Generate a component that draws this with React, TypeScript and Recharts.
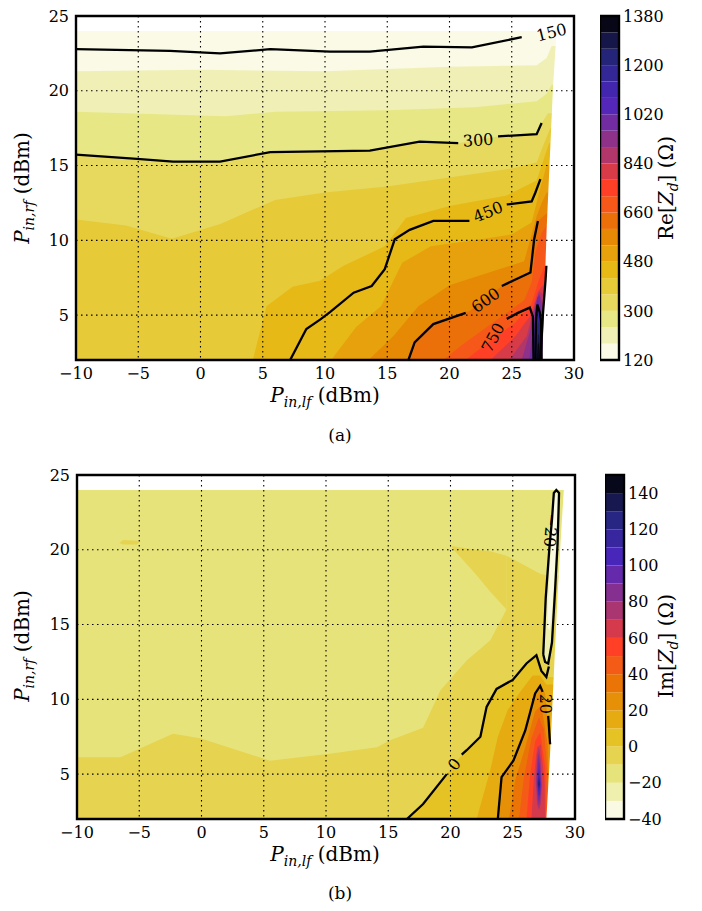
import React from "react";
import {
  ComposedChart,
  Area,
  Line,
  Scatter,
  XAxis,
  YAxis,
  CartesianGrid,
  ReferenceArea,
} from "recharts";

const serif = "'DejaVu Serif', 'Liberation Serif', 'Noto Serif', 'Times New Roman', serif";

const xTicks = [-10, -5, 0, 5, 10, 15, 20, 25, 30];
const yTicks = [5, 10, 15, 20, 25];

// colour levels of the two colour bars
const reLevels = [120, 180, 240, 300, 360, 420, 480, 540, 600, 660, 720, 780, 840, 900, 960, 1020, 1080, 1140, 1200, 1260, 1320, 1380];
const reTicks = [120, 300, 480, 660, 840, 1020, 1200, 1380];
const imLevels = [-40, -30, -20, -10, 0, 10, 20, 30, 40, 50, 60, 70, 80, 90, 100, 110, 120, 130, 140, 150];
const imTicks = [-40, -20, 0, 20, 40, 60, 80, 100, 120, 140];

// ---- (a) Re[Zd]: upper edge of each region "value > level" [x, y]
const reBase = [[-10, 24], [30, 24]];
const reEdge180 = [[-10, 21.3], [0, 21.4], [10, 21.3], [20, 21.6], [27, 21.7], [27.8, 22.2], [28.2, 23.0], [30, 23.0]];
const reEdge240 = [[-10, 18.6], [-2, 18.4], [2, 18.3], [6, 18.6], [15, 18.7], [22, 18.9], [27, 19.3], [27.8, 19.8], [28.2, 20.4], [30, 20.4]];
const reEdge300 = [[-10, 15.73], [-5.1, 15.45], [-2.2, 15.26], [1.6, 15.26], [5.6, 15.9], [13.6, 16.0], [17.6, 16.6], [20.7, 16.5], [23.9, 16.95], [27.0, 17.1], [27.4, 17.85], [27.9, 18.5], [30, 18.5]];
const reEdge360 = [[-10, 11.4], [-6, 11.0], [-2.3, 10.1], [1.6, 11.1], [6, 12.7], [10, 13.2], [15, 13.6], [20, 14.2], [25, 14.8], [27, 15.2], [27.6, 16.5], [28.1, 17.5], [30, 17.5]];
const reEdge420 = [[4.2, 2], [5.3, 5.6], [7.4, 6.9], [9.6, 7.3], [11.5, 8.3], [14.8, 9.6], [16.5, 11.5], [20, 12.3], [24.6, 13.0], [27, 14.0], [27.6, 15.5], [28.0, 16.5], [30, 16.5]];
const reEdge480 = [[10.5, 2], [12.5, 4.2], [14.5, 5.6], [16.2, 8.5], [18.5, 9.6], [22, 10], [25, 10.4], [26.6, 11.2], [27.2, 13.2], [27.8, 15], [30, 15]];
const reEdge540 = [[13.5, 2], [15.5, 3.6], [17.5, 5.6], [20, 7], [23, 7.8], [26, 8.6], [27, 11.6], [27.4, 12.5], [27.8, 13.2], [30, 13.2]];
const reEdge600 = [[16.7, 2], [17.2, 3.18], [18.7, 4.4], [21.65, 5.3], [24.2, 6.95], [26.5, 7.85], [26.8, 10.07], [27.1, 11.3], [27.8, 11.8], [30, 11.8]];
const reEdge660 = [[19.5, 2], [21, 3], [23.5, 4.5], [26, 6], [26.6, 7.2], [26.9, 9.2], [27.4, 10.5], [27.8, 11], [30, 11]];
const reEdge720 = [[21.3, 2], [23, 3.1], [25.3, 4.5], [26.6, 5.8], [27.2, 7.4], [27.8, 8.6], [30, 8.6]];
const reEdge780 = [[23.3, 2], [25.3, 3.6], [26.5, 5.0], [27.1, 6.6], [27.8, 7.3], [30, 7.3]];
const reEdge840 = [[24.8, 2], [26.2, 3.6], [26.7, 5.2], [27.2, 6.6], [27.5, 6.4], [27.7, 2]];
const reEdge900 = [[25.8, 2], [26.5, 4], [26.9, 5.8], [27.2, 6.5], [27.45, 5.8], [27.6, 2]];
const reEdge960 = [[26.4, 2], [26.8, 4.5], [27.05, 6.2], [27.25, 6.3], [27.45, 4.5], [27.55, 2]];
const reEdge1020 = [[26.7, 2], [26.9, 5], [27.1, 6.0], [27.3, 5.2], [27.45, 2]];
const reEdge1080 = [[26.8, 2], [26.95, 5], [27.1, 5.8], [27.25, 5], [27.4, 2]];
const reEdge1140 = [[26.85, 2], [27.0, 4.5], [27.12, 5.3], [27.25, 4.5], [27.35, 2]];
const reEdge1200 = [[26.9, 2], [27.05, 4.2], [27.15, 4.6], [27.25, 4], [27.3, 2]];
const reEdge1260 = [[26.95, 2], [27.1, 3.6], [27.15, 3.8], [27.22, 3.5], [27.28, 2]];
const reEdge1320 = [[27.0, 2], [27.12, 3.2], [27.2, 3], [27.25, 2]];
const reDataEdge = [[27.45, 2], [27.8, 10.7], [28.3, 20], [28.6, 24], [30, 24]];

// (a) contour lines
const reLine150 = [[-10, 22.78], [-2.45, 22.67], [1.57, 22.5], [5.6, 22.78], [10.4, 22.62], [13.6, 22.62], [17.9, 22.95], [21.8, 22.9], [25.8, 23.58]];
const reLine300a = [[-10, 15.73], [-5.1, 15.45], [-2.2, 15.26], [1.57, 15.26], [5.6, 15.9], [13.6, 16.0], [17.6, 16.6], [20.7, 16.5]];
const reLine300b = [[23.9, 16.95], [27.0, 17.1], [27.4, 17.85]];
const reLine450a = [[7.2, 2], [8.5, 4.07], [9.6, 4.7], [10.4, 5.2], [12.3, 6.5], [13.75, 6.95], [14.8, 8.07], [15.6, 10.07], [16.8, 10.7], [18.7, 11.3], [21.6, 11.3]];
const reLine450b = [[24.6, 12.4], [26.6, 12.6], [26.9, 13.2], [27.3, 14.1]];
const reLine600a = [[16.7, 2], [17.2, 3.18], [18.7, 4.4], [21.3, 5.15]];
const reLine600b = [[24.2, 6.95], [26.5, 7.85], [26.8, 10.07], [27.1, 11.3]];
const reLine750 = [[24.6, 4.75], [25.5, 5.15], [26.45, 5.5], [26.7, 4.9], [26.75, 2]];
const reLineSpike = [[26.9, 2], [26.95, 4.7], [27.05, 5.7], [27.25, 5.2], [27.35, 4.6], [27.4, 2]];
const reLineEdge = [[27.3, 2], [27.5, 5], [27.72, 7.4], [27.78, 8.3]];
const reLabels = [
  { x: 28.2, y: 23.9, text: "150", angle: -14 },
  { x: 22.3, y: 16.7, text: "300", angle: -4 },
  { x: 23.1, y: 11.9, text: "450", angle: -22 },
  { x: 22.9, y: 6.0, text: "600", angle: -36 },
  { x: 23.5, y: 3.5, text: "750", angle: -62 },
];

// ---- (b) Im[Zd]
const imBase = [[-10, 24], [30, 24]];
const imEdgeM10 = [[-10, 6.13], [-6.5, 6.13], [-2.3, 7.7], [-0.1, 7.4], [5.5, 5.9], [10.3, 6.36], [14.1, 6.8], [15.1, 7.25], [17.8, 8.1], [19.2, 10.6], [21.3, 12.6], [23.2, 13.95], [24.5, 16.0], [24.5, 19.6], [27.2, 18.4], [27.7, 18.3], [30, 18.3]];
const imLobeM10 = [[20.1, 20.15, 20.25], [22, 18.4, 20.0], [23.2, 17.2, 19.9], [24.5, 16.0, 19.6]];
const imDashM10 = [[-6.6, 20.45, 20.45], [-6.3, 20.35, 20.65], [-5.2, 20.35, 20.6], [-5.0, 20.5, 20.5]];
const imEdge0 = [[16.5, 2], [17.8, 3.0], [19.7, 5.0], [20.5, 5.9], [21.3, 6.6], [22.4, 7.5], [22.9, 9.5], [23.7, 10.7], [25.0, 11.3], [26.1, 12.4], [26.9, 12.95], [27.3, 11.9], [27.7, 11.5], [30, 11.5]];
const imEdge10 = [[22.1, 2], [22.6, 3.5], [23.2, 5.3], [23.8, 7.5], [24.6, 9.3], [25.6, 10.5], [26.6, 11.6], [27.2, 11.6], [27.7, 11], [30, 11]];
const imEdge20 = [[23.8, 2], [24.1, 4.8], [25.05, 5.9], [26.0, 7.9], [26.8, 10.4], [27.2, 10.9], [27.6, 10.4], [28.0, 7.0], [28.05, 2]];
const imEdge30 = [[24.7, 2], [25.2, 4.6], [26.0, 6.8], [26.8, 9.2], [27.3, 9.6], [27.8, 7], [27.9, 2]];
const imEdge40 = [[25.5, 2], [25.9, 4.8], [26.5, 7.4], [27.1, 8.8], [27.5, 8], [27.8, 5], [27.8, 2]];
const imEdge50 = [[26.1, 2], [26.4, 5], [26.8, 7.2], [27.2, 7.8], [27.6, 5.5], [27.7, 2]];
const imEdge60 = [[26.5, 2], [26.7, 4.8], [26.95, 6.8], [27.25, 7], [27.55, 4.5], [27.6, 2]];
const imLens70 = [[26.85, 4.6, 4.6], [26.95, 3.0, 6.3], [27.1, 2.6, 6.8], [27.25, 3.0, 6.0], [27.35, 4.2, 4.2]];
const imLens80 = [[26.9, 4.5, 4.5], [27.0, 3.3, 6.0], [27.1, 2.9, 6.4], [27.2, 3.3, 5.6], [27.3, 4.3, 4.3]];
const imLens90 = [[26.95, 4.4, 4.4], [27.05, 3.5, 5.6], [27.1, 3.2, 6.0], [27.2, 3.6, 5.2], [27.25, 4.3, 4.3]];
const imLens100 = [[27.0, 4.4, 4.4], [27.07, 3.6, 5.3], [27.15, 3.6, 5.1], [27.22, 4.3, 4.3]];
const imLens110 = [[27.03, 4.4, 4.4], [27.1, 3.8, 5.0], [27.18, 4.3, 4.3]];
const imLens120 = [[27.06, 4.4, 4.4], [27.11, 4.0, 4.8], [27.16, 4.4, 4.4]];
const imLens130 = [[27.08, 4.3, 4.3], [27.11, 4.1, 4.6], [27.14, 4.3, 4.3]];
const imLoopOuter = [[27.45, 12.9, 13.1], [27.65, 12.4, 16.8], [27.95, 12.9, 20.2], [28.15, 13.8, 22.0], [28.3, 15.6, 23.8], [28.4, 17.3, 23.95], [28.6, 20.4, 23.95], [28.72, 23.3, 23.95]];
const imLoopInner = [[27.8, 14.8, 15.6], [27.95, 14.6, 18.5], [28.15, 15.8, 21.2], [28.3, 17.8, 23.2], [28.5, 20.8, 23.7], [28.6, 23.0, 23.7]];
const imDataEdge = [[27.7, 2], [28.0, 6.4], [28.6, 17], [28.95, 22], [29.1, 24], [30, 24]];

const imLine0a = [[16.5, 2], [17.8, 3.0], [19.7, 5.0]];
const imLine0b = [[20.9, 6.3], [21.3, 6.6], [22.4, 7.5], [22.9, 9.5], [23.7, 10.7], [25.0, 11.3], [26.1, 12.4], [26.9, 12.95], [27.3, 11.9], [27.7, 11.5], [27.9, 12.2]];
const imLine20a = [[23.8, 2], [24.1, 4.8], [25.05, 5.9], [26.0, 7.9], [26.8, 10.4], [27.2, 10.9], [27.4, 10.5]];
const imLine20b = [[27.85, 8.9], [28.0, 7.0]];
const imLineLoop = [[27.45, 13.0], [27.65, 16.8], [27.95, 20.2], [28.15, 22.0], [28.3, 23.8], [28.5, 24.0], [28.72, 23.8], [28.6, 20.4], [28.4, 17.3], [28.15, 13.8], [27.85, 12.4], [27.6, 12.5], [27.45, 13.0]];
const imLabels = [
  { x: 20.3, y: 5.65, text: "0", angle: -50 },
  { x: 27.65, y: 9.7, text: "20", angle: 90 },
  { x: 28.05, y: 21.3, text: "\u221220", angle: 95 },
];

// CMRmap, reversed
const cmr: Record<string, number[][]> = {
  r: [[0, 0], [0.125, 0.15], [0.25, 0.3], [0.375, 0.6], [0.5, 1], [0.625, 0.9], [0.75, 0.9], [0.875, 0.9], [1, 1]],
  g: [[0, 0], [0.125, 0.15], [0.25, 0.15], [0.375, 0.2], [0.5, 0.25], [0.625, 0.5], [0.75, 0.75], [0.875, 0.9], [1, 1]],
  b: [[0, 0], [0.125, 0.5], [0.25, 0.75], [0.375, 0.5], [0.5, 0.15], [0.625, 0], [0.75, 0.1], [0.875, 0.5], [1, 1]],
};
const chan = (s: number[][], t: number) => {
  for (let i = 1; i < s.length; i++) {
    if (t <= s[i][0]) {
      const f = (t - s[i - 1][0]) / (s[i][0] - s[i - 1][0]);
      return s[i - 1][1] + f * (s[i][1] - s[i - 1][1]);
    }
  }
  return 1;
};
const cmap = (t: number) => {
  const u = 1 - t;
  const h = (v: number) => Math.round(v * 255).toString(16).padStart(2, "0");
  return "#" + h(chan(cmr.r, u)) + h(chan(cmr.g, u)) + h(chan(cmr.b, u));
};
const bandColor = (i: number, n: number) => cmap((i + 0.5) / n);

const fmt = (v: number) => (v < 0 ? "\u2212" + Math.abs(v) : String(v));
const under = (pts: number[][]) => pts.map(([x, y]) => ({ x, r: [2, y] }));
const lens = (pts: number[][]) => pts.map(([x, lo, hi]) => ({ x, r: [lo, hi] }));
const pts = (p: number[][]) => p.map(([x, y]) => ({ x, y }));

const LabelShape = (props: any) => {
  const { cx, cy, payload } = props;
  if (cx == null || cy == null) return null;
  return (
    <text
      x={cx}
      y={cy}
      transform={`rotate(${payload.angle} ${cx} ${cy})`}
      textAnchor="middle"
      dominantBaseline="central"
      style={{ fontFamily: serif, fontSize: 16 }}
      fill="#000"
    >
      {payload.text}
    </text>
  );
};

type Region = { data: any[]; fill: string };

const tickStyle = { fill: "#000", fontSize: 16, fontFamily: serif, style: { fontFamily: serif } };

const Panel = ({ regions, lines, labels, plotLeft }: { regions: Region[]; lines: number[][][]; labels: any[]; plotLeft: number }) => (
  <ComposedChart width={590} height={400} margin={{ top: 16, right: 590 - plotLeft - 498, bottom: 0, left: 0 }}>
    <XAxis
      type="number"
      dataKey="x"
      domain={[-10, 30]}
      ticks={xTicks}
      allowDataOverflow
      height={40}
      axisLine={false}
      tickLine={false}
      tickSize={0}
      tickMargin={8}
      tickFormatter={fmt}
      tick={tickStyle}
    />
    <YAxis
      type="number"
      dataKey="y"
      domain={[2, 25]}
      ticks={yTicks}
      allowDataOverflow
      width={plotLeft}
      axisLine={false}
      tickLine={false}
      tickSize={0}
      tickMargin={7}
      tick={tickStyle}
    />
    {regions.map((r, i) => (
      <Area
        key={"a" + i}
        data={r.data}
        dataKey="r"
        type="linear"
        fill={r.fill}
        fillOpacity={1}
        stroke="none"
        isAnimationActive={false}
        dot={false}
        activeDot={false}
      />
    ))}
    <CartesianGrid stroke="#000" strokeDasharray="1.5 3.5" strokeWidth={1.1} zIndex={150} />
    {lines.map((l, i) => (
      <Line
        key={"l" + i}
        data={pts(l)}
        dataKey="y"
        type="linear"
        stroke="#000"
        strokeWidth={2.3}
        dot={false}
        activeDot={false}
        isAnimationActive={false}
      />
    ))}
    <Scatter data={labels} dataKey="y" shape={(p: any) => <LabelShape {...p} />} isAnimationActive={false} />
    <ReferenceArea x1={-10} x2={30} y1={2} y2={25} fill="none" stroke="#000" strokeWidth={2.4} ifOverflow="visible" zIndex={1500} />
  </ComposedChart>
);

const ColorBar = ({ levels, ticks }: { levels: number[]; ticks: number[] }) => {
  const n = levels.length - 1;
  return (
    <ComposedChart width={100} height={400} margin={{ top: 16, right: 0, bottom: 40, left: 0 }}>
      <XAxis type="number" dataKey="x" domain={[0, 1]} allowDataOverflow hide />
      <YAxis
        type="number"
        orientation="right"
        domain={[levels[0], levels[n]]}
        ticks={ticks}
        allowDataOverflow
        width={81}
        axisLine={false}
        tickLine={false}
        tickSize={0}
        tickMargin={4}
        tickFormatter={fmt}
        tick={tickStyle}
      />
      {levels.slice(0, n).map((lo, i) => (
        <Area
          key={i}
          data={[{ x: 0, r: [lo, levels[i + 1]] }, { x: 1, r: [lo, levels[i + 1]] }]}
          dataKey="r"
          type="linear"
          fill={bandColor(i, n)}
          fillOpacity={1}
          stroke="none"
          isAnimationActive={false}
          dot={false}
          activeDot={false}
        />
      ))}
      <ReferenceArea x1={0} x2={1} y1={levels[0]} y2={levels[n]} fill="none" stroke="#000" strokeWidth={2.4} ifOverflow="visible" zIndex={1500} />
    </ComposedChart>
  );
};

const ReColor = (k: number) => bandColor(k, 21);
const ImColor = (k: number) => bandColor(k, 19);

const reRegions: Region[] = [
  { data: under(reBase), fill: ReColor(0) },
  ...[reEdge180, reEdge240, reEdge300, reEdge360, reEdge420, reEdge480, reEdge540, reEdge600, reEdge660, reEdge720, reEdge780, reEdge840, reEdge900, reEdge960, reEdge1020, reEdge1080, reEdge1140, reEdge1200, reEdge1260, reEdge1320].map((e, i) => ({ data: under(e), fill: ReColor(i + 1) })),
  { data: under(reDataEdge), fill: "#ffffff" },
  { data: lens([[-10, 24, 25], [30, 24, 25]]), fill: "#ffffff" },
];

const imRegions: Region[] = [
  { data: under(imBase), fill: ImColor(2) },
  { data: lens(imDashM10), fill: ImColor(3) },
  { data: under(imEdgeM10), fill: ImColor(3) },
  { data: lens(imLobeM10), fill: ImColor(3) },
  ...[imEdge0, imEdge10, imEdge20, imEdge30, imEdge40, imEdge50, imEdge60].map((e, i) => ({ data: under(e), fill: ImColor(i + 4) })),
  ...[imLens70, imLens80, imLens90, imLens100, imLens110, imLens120, imLens130].map((e, i) => ({ data: lens(e), fill: ImColor(i + 11) })),
  { data: lens(imLoopOuter), fill: ImColor(1) },
  { data: lens(imLoopInner), fill: ImColor(0) },
  { data: under(imDataEdge), fill: "#ffffff" },
  { data: lens([[-10, 24, 25], [30, 24, 25]]), fill: "#ffffff" },
];

const Sym = ({ sub }: { sub: string }) => (
  <span>
    <i>P</i>
    <sub style={{ fontStyle: "italic", fontSize: "0.7em", verticalAlign: "-0.35em" }}>{sub}</sub>
  </span>
);

const txt: React.CSSProperties = { position: "absolute", whiteSpace: "nowrap", fontFamily: serif, color: "#000", lineHeight: 1 };
const rot = (left: number, top: number, size: number): React.CSSProperties => ({
  ...txt,
  left,
  top,
  fontSize: size,
  transform: "translate(-50%, -50%) rotate(-90deg)",
});
const mid = (left: number, top: number, size: number): React.CSSProperties => ({
  ...txt,
  left,
  top,
  fontSize: size,
  transform: "translate(-50%, -50%)",
});

export default function App() {
  return (
    <div style={{ position: "absolute", left: 0, top: 0, width: 702, height: 911, background: "#fff", fontFamily: serif }}>
      <div style={{ position: "absolute", left: 0, top: 0 }}>
        <Panel
          regions={reRegions}
          lines={[reLine150, reLine300a, reLine300b, reLine450a, reLine450b, reLine600a, reLine600b, reLine750, reLineSpike, reLineEdge]}
          labels={reLabels}
          plotLeft={76}
        />
      </div>
      <div style={{ position: "absolute", left: 600, top: 0 }}>
        <ColorBar levels={reLevels} ticks={reTicks} />
      </div>
      <div style={rot(24, 188, 20)}>
        <Sym sub="in,rf" /> (dBm)
      </div>
      <div style={mid(325, 397, 20)}>
        <Sym sub="in,lf" /> (dBm)
      </div>
      <div style={rot(668, 188, 20)}>
        Re[<i>Z</i><sub style={{ fontStyle: "italic", fontSize: "0.7em" }}>d</sub>] (Ω)
      </div>
      <div style={mid(340, 435, 17)}>(a)</div>

      <div style={{ position: "absolute", left: 0, top: 459 }}>
        <Panel
          regions={imRegions}
          lines={[imLine0a, imLine0b, imLine20a, imLine20b, imLineLoop]}
          labels={imLabels}
          plotLeft={77}
        />
      </div>
      <div style={{ position: "absolute", left: 605, top: 459 }}>
        <ColorBar levels={imLevels} ticks={imTicks} />
      </div>
      <div style={rot(24, 646, 20)}>
        <Sym sub="in,rf" /> (dBm)
      </div>
      <div style={mid(325, 856, 20)}>
        <Sym sub="in,lf" /> (dBm)
      </div>
      <div style={rot(668, 646, 20)}>
        Im[<i>Z</i><sub style={{ fontStyle: "italic", fontSize: "0.7em" }}>d</sub>] (Ω)
      </div>
      <div style={mid(340, 893, 17)}>(b)</div>
    </div>
  );
}
